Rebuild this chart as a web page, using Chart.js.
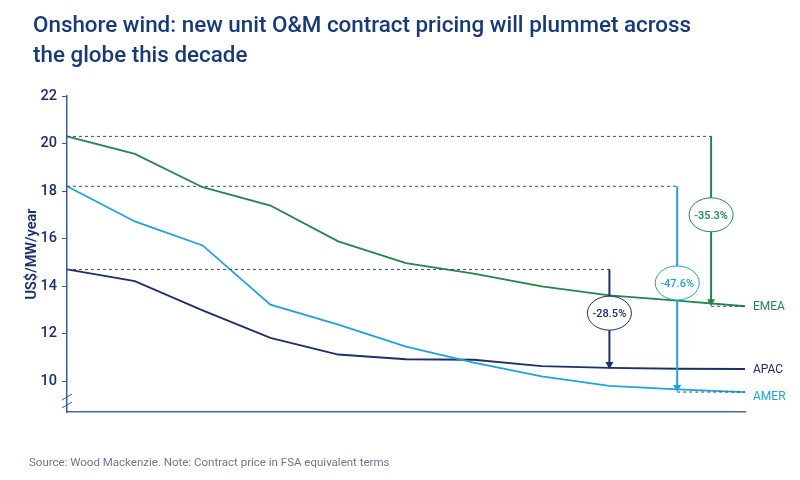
<!DOCTYPE html>
<html>
<head>
<meta charset="utf-8">
<script src="https://cdn.jsdelivr.net/npm/chart.js@4.4.1/dist/chart.umd.min.js"></script>
<style>
  html, body { margin: 0; padding: 0; background: #fff; }
  #wrap { position: relative; width: 800px; height: 480px; font-family: Roboto, sans-serif; }
  #title { position: absolute; left: 33px; top: 9px; font-size: 22.4px; font-weight: 500; line-height: 30px; color: #183a7a; }
  #source { position: absolute; left: 29px; top: 455px; font-size: 11.5px; color: #6b7791; }
  canvas { position: absolute; left: 0; top: 0; }
</style>
</head>
<body>
<div id="wrap">
  <canvas id="chart" width="800" height="480"></canvas>
  <div id="title">Onshore wind: new unit O&amp;M contract pricing will plummet across<br>the globe this decade</div>
  <div id="source">Source: Wood Mackenzie. Note: Contract price in FSA equivalent terms</div>
</div>
<script>
// ─── Data ─────────────────────────────────────────────────────────────────────
const years = ['2020', '2021', '2022', '2023', '2024', '2025', '2026', '2027', '2028', '2029', '2030'];
const emea = [20.3, 19.56, 18.16, 17.39, 15.88, 14.97, 14.52, 13.99, 13.61, 13.39, 13.15];
const amer = [18.2, 16.72, 15.71, 13.22, 12.38, 11.45, 10.78, 10.2, 9.8, 9.65, 9.54];
const apac = [14.7, 14.21, 12.98, 11.82, 11.12, 10.92, 10.9, 10.63, 10.56, 10.52, 10.51];
const yTicks = [10, 12, 14, 16, 18, 20, 22];

// change callouts: series, x index of the drop line, label, ellipse centre value
const changes = [
  { name: 'EMEA', data: emea, xi: 9.5, label: '-35.3%', mid: 17.0, tail: true },
  { name: 'AMER', data: amer, xi: 9, label: '-47.6%', mid: 14.13, tail: true },
  { name: 'APAC', data: apac, xi: 8, label: '-28.5%', mid: 12.86, tail: false },
];

const NAVY = '#1b2f6e';
const GREEN = '#23854a';
const LIGHT = '#1fa3dc';
const colors = { EMEA: GREEN, AMER: LIGHT, APAC: NAVY };

// ─── Annotations plugin ───────────────────────────────────────────────────────
const annotate = {
  id: 'annotate',
  afterDatasetsDraw(chart) {
    const { ctx, scales: { x, y }, chartArea: area } = chart;
    ctx.save();

    // axis break marks
    ctx.strokeStyle = '#3a5a94';
    ctx.lineWidth = 1;
    [397, 405].forEach((py) => {
      ctx.beginPath(); ctx.moveTo(area.left - 5, py + 3); ctx.lineTo(area.left + 5, py - 3); ctx.stroke();
    });

    changes.forEach((c) => {
      const col = colors[c.name];
      const px = x.getPixelForValue(c.xi);
      const top = y.getPixelForValue(c.data[0]);
      const bot = y.getPixelForValue(c.data[c.data.length - 1]);

      // dashed reference from start value
      ctx.setLineDash([3, 3]);
      ctx.strokeStyle = '#3b4a7a';
      ctx.lineWidth = 1;
      ctx.beginPath(); ctx.moveTo(area.left, top); ctx.lineTo(px + 2, top); ctx.stroke();
      if (c.tail) {
        ctx.beginPath(); ctx.moveTo(px, bot); ctx.lineTo(area.right, bot); ctx.stroke();
      }
      ctx.setLineDash([]);

      // drop line + arrow head
      ctx.strokeStyle = col;
      ctx.fillStyle = col;
      ctx.lineWidth = 2;
      ctx.beginPath(); ctx.moveTo(px, top); ctx.lineTo(px, bot - 4); ctx.stroke();
      ctx.beginPath(); ctx.moveTo(px - 4, bot - 7); ctx.lineTo(px + 4, bot - 7); ctx.lineTo(px, bot); ctx.closePath(); ctx.fill();

      // ellipse label
      const my = y.getPixelForValue(c.mid);
      ctx.beginPath(); ctx.ellipse(px, my, 22, 17, 0, 0, Math.PI * 2);
      ctx.fillStyle = '#fff'; ctx.fill();
      ctx.lineWidth = 1; ctx.strokeStyle = col; ctx.stroke();
      ctx.fillStyle = col;
      ctx.font = '500 11px Roboto, sans-serif';
      ctx.textAlign = 'center'; ctx.textBaseline = 'middle';
      ctx.fillText(c.label, px, my + 1);

      // series name at the right end
      ctx.font = '12px Roboto, sans-serif';
      ctx.textAlign = 'left';
      ctx.fillText(c.name, area.right + 8, bot + (c.name === 'AMER' ? 5 : 1));
    });
    ctx.restore();
  },
};

const mkSet = (label, data, color) => ({
  label, data, borderColor: color, borderWidth: 1.8, pointRadius: 0, tension: 0, fill: false,
});

new Chart(document.getElementById('chart'), {
  type: 'line',
  data: {
    labels: years,
    datasets: [mkSet('EMEA', emea, GREEN), mkSet('AMER', amer, LIGHT), mkSet('APAC', apac, NAVY)],
  },
  options: {
    responsive: false,
    animation: false,
    layout: { padding: { left: 20, right: 55, top: 96, bottom: 0 } },
    plugins: { legend: { display: false }, tooltip: { enabled: false } },
    scales: {
      x: {
        offset: false,
        grid: { display: false },
        border: { display: true, color: '#4b6aa0', width: 1.5 },
        ticks: { display: false },
        afterFit: (s) => { s.height = 68; },
      },
      y: {
        min: 8.7,
        max: 22,
        afterBuildTicks: (s) => { s.ticks = yTicks.map((v) => ({ value: v })); },
        grid: { drawOnChartArea: false, drawTicks: true, tickLength: 5, color: '#3a5a94' },
        border: { display: true, color: '#3a5a94', width: 1.5 },
        ticks: { color: NAVY, padding: 5, font: { family: 'Roboto', size: 14.5, weight: '500' } },
        title: {
          display: true, text: 'US$/MW/year', color: NAVY,
          font: { family: 'Roboto', size: 14.5, weight: '600' }, padding: { top: 4, bottom: 0 },
        },
        afterFit: (s) => { s.width = 47; },
      },
    },
  },
  plugins: [annotate],
});
</script>
</body>
</html>
